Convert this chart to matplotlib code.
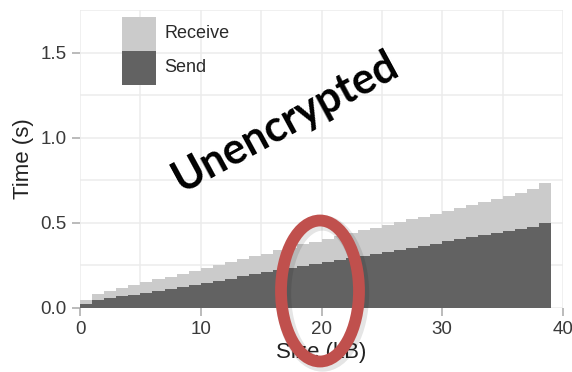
import matplotlib
matplotlib.use("Agg")
import numpy as np
import matplotlib.pyplot as plt
from matplotlib.patches import Ellipse, Rectangle

# size bins (kB), one step per kB
size_edges = list(range(0, 40))

# time spent sending, per size bin (s)
send_time = [0.025, 0.048, 0.058, 0.068, 0.078, 0.088, 0.099, 0.111, 0.123, 0.135,
             0.148, 0.160, 0.172, 0.185, 0.197, 0.210, 0.222, 0.234, 0.246, 0.258,
             0.270, 0.282, 0.294, 0.306, 0.318, 0.330, 0.342, 0.354, 0.366, 0.378,
             0.391, 0.403, 0.415, 0.428, 0.440, 0.452, 0.465, 0.478, 0.497]

# send + receive stacked top, per size bin (s)
total_time = [0.045, 0.082, 0.102, 0.120, 0.137, 0.153, 0.168, 0.184, 0.200, 0.216,
              0.233, 0.250, 0.268, 0.285, 0.303, 0.320, 0.338, 0.355, 0.373, 0.390,
              0.407, 0.423, 0.440, 0.456, 0.472, 0.488, 0.504, 0.520, 0.536, 0.552,
              0.569, 0.586, 0.603, 0.620, 0.638, 0.656, 0.674, 0.700, 0.732]

series_names = ["Receive", "Send"]
series_colors = ["#cbcbcb", "#626262"]

W, H = 572, 372
plt.rcParams['font.family'] = ['Liberation Sans', 'DejaVu Sans']
fig = plt.figure(figsize=(W / 100, H / 100), dpi=100)
ax = fig.add_axes([80 / W, 1 - 308 / H, (563 - 80) / W, (308 - 10) / H])

ax.stairs(total_time, size_edges, baseline=0, fill=True, color=series_colors[0], lw=0, zorder=2)
ax.stairs(send_time, size_edges, baseline=0, fill=True, color=series_colors[1], lw=0, zorder=3)

ax.set_xlim(0, 40)
ax.set_ylim(0, 1.75)
ax.set_xticks([0, 10, 20, 30, 40])
ax.set_xticks([5, 15, 25, 35], minor=True)
ax.set_yticks([0.0, 0.5, 1.0, 1.5])
ax.set_yticks([0.25, 0.75, 1.25, 1.75], minor=True)
ax.set_yticklabels(["0.0", "0.5", "1.0", "1.5"])

ax.grid(True, which="both", color="#ececec", lw=1.1, zorder=0)
ax.set_axisbelow(True)
for s in ax.spines.values():
    s.set_visible(False)
ax.tick_params(which="major", length=5.5, width=1.1, color="#a8a8a8",
               labelsize=13.5, labelcolor="#3a3a3a", pad=4)
ax.tick_params(which="minor", length=0)

ax.set_xlabel("Size (kB)", fontsize=16, color="#222222", labelpad=3)
ax.set_ylabel("Time (s)", fontsize=16, color="#222222", labelpad=5)

# legend keys drawn as stacked squares, ggplot style
key_x, key_top, key_size = 122, 17, 34
for i, (name, col) in enumerate(zip(series_names, series_colors)):
    top = key_top + i * key_size
    fig.add_artist(Rectangle((key_x / W, 1 - (top + key_size) / H), key_size / W, key_size / H,
                             facecolor=col, edgecolor="none", transform=fig.transFigure))
    fig.text((key_x + key_size + 8) / W, 1 - (top + key_size / 2) / H, name,
             fontsize=13, color="#2a2a2a", ha="left", va="center")

# overlay annotation
fig.text(285 / W, 1 - 122 / H, "Unencrypted", fontsize=31, fontweight="bold",
         family=["Lato", "DejaVu Sans"], color="black", rotation=28.5,
         ha="center", va="center", rotation_mode="anchor")

cx, cy, ew, eh = 320, 291, 78, 141
shadow = Ellipse(((cx + 2.5) / W, 1 - (cy + 2.5) / H), ew / W, eh / H, fill=False,
                 edgecolor="black", alpha=0.1, lw=11, transform=fig.transFigure)
fig.add_artist(shadow)
ring = Ellipse((cx / W, 1 - cy / H), ew / W, eh / H, fill=False,
               edgecolor="#c0504d", lw=8.5, transform=fig.transFigure)
fig.add_artist(ring)

fig.savefig("out.png", dpi=100)
